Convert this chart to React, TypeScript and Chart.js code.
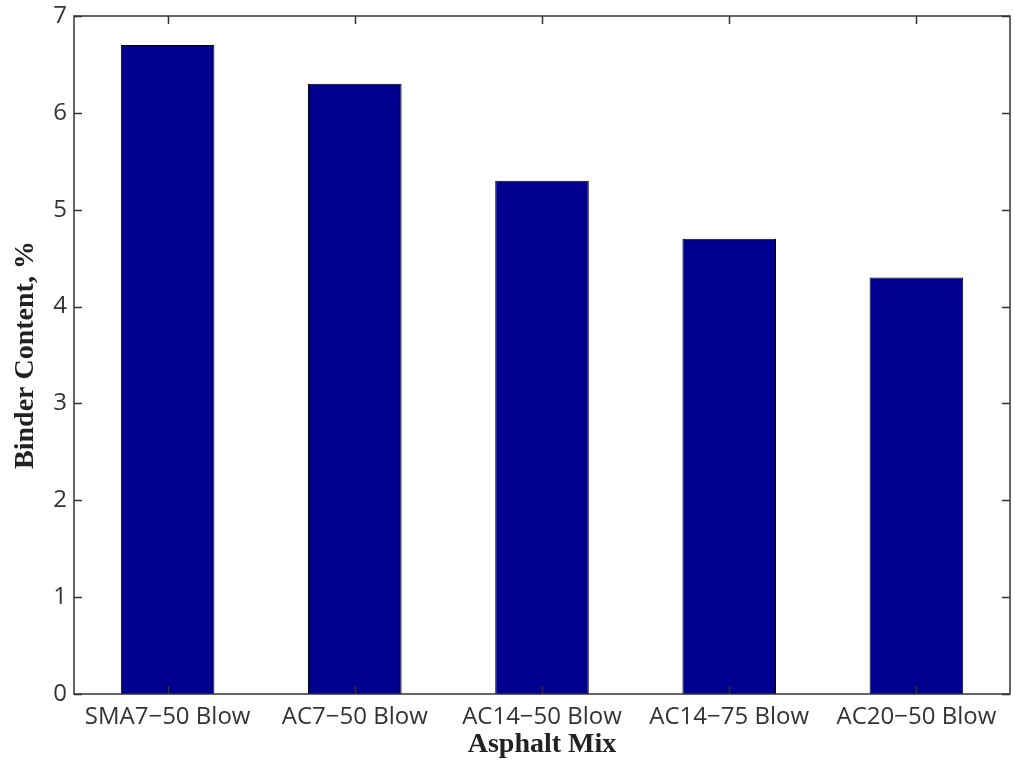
import React, { useEffect, useRef } from "react";
import { Chart, registerables } from "chart.js";

Chart.register(...registerables);

const categories = ["SMA7−50 Blow", "AC7−50 Blow", "AC14−50 Blow", "AC14−75 Blow", "AC20−50 Blow"];
const binderContent = [6.7, 6.3, 5.3, 4.7, 4.3];
const yTicks = [0, 1, 2, 3, 4, 5, 6, 7];

const AXIS_COLOR = "#333333";

const boxPlugin = {
  id: "matlabBox",
  afterDraw(chart: any) {
    const { ctx, chartArea } = chart;
    const { left, right, top, bottom } = chartArea;
    const xs = chart.scales.x;
    const ys = chart.scales.y;
    const tl = 8;
    ctx.save();
    ctx.strokeStyle = AXIS_COLOR;
    ctx.lineWidth = 1.5;
    ctx.strokeRect(left, top, right - left, bottom - top);
    ctx.beginPath();
    yTicks.forEach((v) => {
      const y = Math.round(ys.getPixelForValue(v)) + 0.5;
      ctx.moveTo(left, y);
      ctx.lineTo(left + tl, y);
      ctx.moveTo(right, y);
      ctx.lineTo(right - tl, y);
    });
    categories.forEach((_, i) => {
      const x = Math.round(xs.getPixelForValue(i)) + 0.5;
      ctx.moveTo(x, top);
      ctx.lineTo(x, top + tl);
      ctx.moveTo(x, bottom);
      ctx.lineTo(x, bottom - tl);
    });
    ctx.stroke();
    ctx.restore();
  },
};

export default function App() {
  const ref = useRef<HTMLCanvasElement | null>(null);
  useEffect(() => {
    if (!ref.current) return;
    const chart = new Chart(ref.current, {
      type: "bar",
      data: {
        labels: categories,
        datasets: [
          {
            data: binderContent,
            backgroundColor: "#00008F",
            borderColor: "#000000",
            borderWidth: 1,
            barPercentage: 0.5,
            categoryPercentage: 1,
          },
        ],
      },
      options: {
        animation: false,
        responsive: false,
        maintainAspectRatio: false,
        layout: { padding: { top: 16, right: 5, left: 0, bottom: 0 } },
        plugins: { legend: { display: false }, tooltip: { enabled: false } },
        scales: {
          x: {
            grid: { display: false, drawTicks: false },
            border: { display: false },
            ticks: {
              color: AXIS_COLOR,
              font: { family: "'Open Sans'", size: 24 },
              padding: 9,
              maxRotation: 0,
              autoSkip: false,
            },
            title: {
              display: true,
              text: "Asphalt Mix",
              color: "#222222",
              font: { family: "'Liberation Serif'", size: 28, weight: "bold" },
              padding: { top: 0, bottom: 6 },
            },
            afterFit: (s: any) => {
              s.height = 74;
              s.paddingLeft = 0;
              s.paddingRight = 0;
            },
          },
          y: {
            min: 0,
            max: 7,
            grid: { display: false, drawTicks: false },
            border: { display: false },
            ticks: {
              stepSize: 1,
              color: AXIS_COLOR,
              font: { family: "'Open Sans'", size: 24 },
              padding: 7,
            },
            title: {
              display: true,
              text: "Binder Content, %",
              color: "#222222",
              font: { family: "'Liberation Serif'", size: 28, weight: "bold" },
              padding: { top: 9, bottom: 0 },
            },
            afterFit: (s: any) => {
              s.width = 74;
              s.paddingTop = 0;
              s.paddingBottom = 0;
            },
          },
        },
      },
      plugins: [boxPlugin],
    });
    return () => chart.destroy();
  }, []);
  return (
    <div style={{ position: "absolute", left: 0, top: 0, width: 1015, height: 768, background: "#fff" }}>
      <canvas ref={ref} width={1015} height={768} style={{ width: 1015, height: 768 }} />
    </div>
  );
}
